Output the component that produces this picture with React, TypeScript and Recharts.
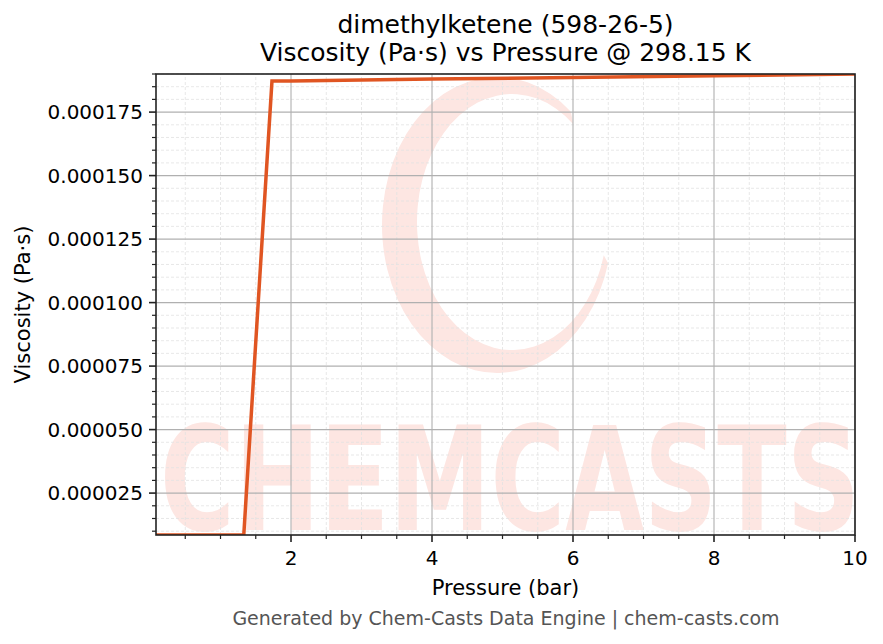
import React from "react";
import { LineChart, Line, XAxis, YAxis, ReferenceLine } from "recharts";

const pressure = [0.085, 0.5, 1.0, 1.33, 1.73, 2, 4, 6, 8, 10];
const viscosity = [
  8.5e-6, 8.5e-6, 8.5e-6, 8.5e-6, 1.872e-4, 1.8725e-4, 1.88e-4, 1.886e-4,
  1.893e-4, 1.9e-4,
];
const xMajor = [2, 4, 6, 8, 10];
const yMajor = [0.000025, 0.00005, 0.000075, 0.0001, 0.000125, 0.00015, 0.000175];
const yLabels = ["0.000025", "0.000050", "0.000075", "0.000100", "0.000125", "0.000150", "0.000175"];
const X_DOMAIN: [number, number] = [0.085, 10];
const Y_DOMAIN: [number, number] = [8.5e-6, 1.9e-4];

const xMinor: number[] = [];
for (let i = 1; i <= 19; i++) if (i % 4 !== 0) xMinor.push(i * 0.5);
const yMinor: number[] = [];
for (let i = 2; i <= 38; i++) if (i % 5 !== 0) yMinor.push(+(i * 5e-6).toFixed(7));

const data = pressure.map((p, i) => ({ p, v: viscosity[i] }));

const W = 883;
const H = 644;
const PLOT_LEFT = 156;
const PLOT_RIGHT = 855;
const PLOT_TOP = 74;
const PLOT_BOTTOM = 535;
const FONT = "'DejaVu Sans', sans-serif";
const LINE_COLOR = "#e05522";
const WM = "#fde6e2";

function XTick(props: any) {
  const { x, y, payload } = props;
  const major = xMajor.includes(payload.value);
  return (
    <g>
      <line x1={x} x2={x} y1={y} y2={y + (major ? 7 : 4)} stroke="#222" strokeWidth={major ? 1.6 : 1.2} />
      {major && (
        <text x={x} y={y + 30} textAnchor="middle" fontSize={20} fontFamily={FONT} fill="#000">
          {payload.value}
        </text>
      )}
    </g>
  );
}

function YTick(props: any) {
  const { x, y, payload } = props;
  const idx = yMajor.findIndex((v) => Math.abs(v - payload.value) < 1e-9);
  const major = idx >= 0;
  return (
    <g>
      <line x1={x} x2={x - (major ? 7 : 4)} y1={y} y2={y} stroke="#222" strokeWidth={major ? 1.6 : 1.2} />
      {major && (
        <text x={x - 13} y={y + 7} textAnchor="end" fontSize={20} fontFamily={FONT} fill="#000">
          {yLabels[idx]}
        </text>
      )}
    </g>
  );
}

function Watermark() {
  const cx = 497, cy = 225, rx = 115, ry = 148;
  const icx = 512, icy = 222, irx = 95, iry = 128;
  const pt = (a: number, c: number, d: number, r1: number, r2: number) => {
    const t = (a * Math.PI) / 180;
    return `${c + r1 * Math.cos(t)} ${d + r2 * Math.sin(t)}`;
  };
  const path =
    `M ${pt(-50, cx, cy, rx, ry)} A ${rx} ${ry} 0 1 0 ${pt(15, cx, cy, rx, ry)} ` +
    `L ${pt(15, icx, icy, irx, iry)} A ${irx} ${iry} 0 1 1 ${pt(-50, icx, icy, irx, iry)} Z`;
  return (
    <svg width={W} height={H} style={{ position: "absolute", left: 0, top: 0 }}>
      <defs>
        <clipPath id="plotClip">
          <rect x={PLOT_LEFT} y={PLOT_TOP} width={PLOT_RIGHT - PLOT_LEFT} height={PLOT_BOTTOM - PLOT_TOP} />
        </clipPath>
      </defs>
      <g clipPath="url(#plotClip)">
        <path d={path} fill={WM} />
        <text
          x={160}
          y={530}
          fontSize={144}
          fontWeight="bold"
          fontFamily={FONT}
          fill={WM}
          textLength={700}
          lengthAdjust="spacingAndGlyphs"
        >
          CHEMCASTS
        </text>
      </g>
    </svg>
  );
}

export default function App() {
  return (
    <div style={{ position: "relative", width: W, height: H, background: "#fff" }}>
      <style>{`body{margin:0}`}</style>
      <Watermark />
      <div style={{ position: "absolute", left: 0, top: 0 }}>
        <LineChart
          width={W}
          height={H}
          data={data}
          margin={{ top: PLOT_TOP, right: W - PLOT_RIGHT, bottom: H - PLOT_BOTTOM - 30, left: PLOT_LEFT - 60 }}
        >
          <XAxis
            dataKey="p"
            type="number"
            domain={X_DOMAIN}
            allowDataOverflow
            ticks={[...xMinor, ...xMajor].sort((a, b) => a - b)}
            interval={0}
            tick={<XTick />}
            tickLine={false}
            tickSize={0}
            tickMargin={0}
            axisLine={false}
            height={30}
          />
          <YAxis
            type="number"
            domain={Y_DOMAIN}
            allowDataOverflow
            ticks={[...yMinor, ...yMajor].sort((a, b) => a - b)}
            interval={0}
            tick={<YTick />}
            tickLine={false}
            tickSize={0}
            tickMargin={0}
            axisLine={false}
            width={60}
          />
          {xMinor.map((v) => (
            <ReferenceLine key={"xm" + v} x={v} stroke="#e2e2e2" strokeDasharray="3 2" strokeWidth={0.8} />
          ))}
          {yMinor.map((v) => (
            <ReferenceLine key={"ym" + v} y={v} stroke="#e2e2e2" strokeDasharray="3 2" strokeWidth={0.8} />
          ))}
          {xMajor.map((v) => (
            <ReferenceLine key={"xM" + v} x={v} stroke="#b0b0b0" strokeWidth={1.1} />
          ))}
          {yMajor.map((v) => (
            <ReferenceLine key={"yM" + v} y={v} stroke="#b0b0b0" strokeWidth={1.1} />
          ))}
          <Line
            dataKey="v"
            type="linear"
            stroke={LINE_COLOR}
            strokeWidth={3.5}
            dot={false}
            activeDot={false}
            isAnimationActive={false}
          />
        </LineChart>
      </div>
      <svg width={W} height={H} style={{ position: "absolute", left: 0, top: 0, pointerEvents: "none" }}>
        <rect
          x={PLOT_LEFT}
          y={PLOT_TOP}
          width={PLOT_RIGHT - PLOT_LEFT}
          height={PLOT_BOTTOM - PLOT_TOP}
          fill="none"
          stroke="#222"
          strokeWidth={1.6}
        />
        <text x={(PLOT_LEFT + PLOT_RIGHT) / 2} y={33} textAnchor="middle" fontSize={25} fontFamily={FONT} fill="#000">
          dimethylketene (598-26-5)
        </text>
        <text x={(PLOT_LEFT + PLOT_RIGHT) / 2} y={61} textAnchor="middle" fontSize={25} fontFamily={FONT} fill="#000">
          Viscosity (Pa·s) vs Pressure @ 298.15 K
        </text>
        <text x={(PLOT_LEFT + PLOT_RIGHT) / 2} y={595} textAnchor="middle" fontSize={21} fontFamily={FONT} fill="#000">
          Pressure (bar)
        </text>
        <text
          transform={`translate(30, ${(PLOT_TOP + PLOT_BOTTOM) / 2}) rotate(-90)`}
          textAnchor="middle"
          fontSize={21}
          fontFamily={FONT}
          fill="#000"
        >
          Viscosity (Pa·s)
        </text>
        <text x={506} y={625} textAnchor="middle" fontSize={19} fontFamily={FONT} fill="#555">
          Generated by Chem-Casts Data Engine | chem-casts.com
        </text>
      </svg>
    </div>
  );
}
